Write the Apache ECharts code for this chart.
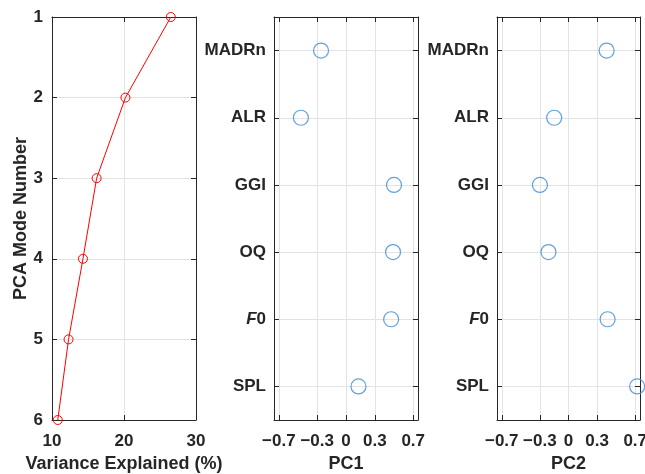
<!DOCTYPE html>
<html lang="en">
<head>
<meta charset="UTF-8">
<title>PCA</title>
<script src="https://cdn.jsdelivr.net/npm/echarts@6/dist/echarts.min.js"></script>
</head>
<body style="margin:0;background:#fff">
<div id="main" style="width:645px;height:474px"></div>
<script>
// data
var modeNumbers = [1, 2, 3, 4, 5, 6];
var varianceExplained = [26.5, 20.2, 16.2, 14.3, 12.3, 10.8];
var features = ['MADRn', 'ALR', 'GGI', 'OQ', 'F0', 'SPL'];
var featurePos = [1, 2, 3, 4, 5, 6];
var pc1 = [-0.26, -0.47, 0.50, 0.49, 0.47, 0.13];
var pc2 = [0.40, -0.15, -0.30, -0.21, 0.41, 0.72];
var pcTicks = [-0.7, -0.3, 0, 0.3, 0.7];

var font = 'Liberation Sans, Arial, sans-serif';
var txt = '#262626';
var boxColor = '#262626';
var gridColor = '#e3e3e3';

function minus(v) { return String(v).replace('-', '\u2212'); }

function frameAxis(type, gridIndex, pos, extra) {
    var a = {
        type: 'value',
        gridIndex: gridIndex,
        position: pos,
        axisLine: { show: true, onZero: false, lineStyle: { color: boxColor, width: 1 } },
        axisTick: { show: true, inside: true, length: 5, lineStyle: { color: boxColor } },
        axisLabel: { show: false },
        splitLine: { show: false }
    };
    for (var k in extra) a[k] = extra[k];
    return a;
}

var labelStyle = { color: txt, fontFamily: font, fontWeight: 'bold', fontSize: 17 };
var nameStyle = { color: txt, fontFamily: font, fontWeight: 'bold', fontSize: 18 };

var xAxes = [], yAxes = [];

// panel 1
xAxes.push(frameAxis('value', 0, 'bottom', {
    min: 10, max: 30, interval: 10,
    name: 'Variance Explained (%)', nameLocation: 'middle', nameGap: 35, nameMoveOverlap: false,
    nameTextStyle: nameStyle,
    axisLabel: Object.assign({ show: true, margin: 13 }, labelStyle),
    splitLine: { show: true, lineStyle: { color: gridColor } }
}));
xAxes.push(frameAxis('value', 0, 'top', { min: 10, max: 30, interval: 10 }));
yAxes.push(frameAxis('value', 0, 'left', {
    min: 1, max: 6, interval: 1, inverse: true,
    name: 'PCA Mode Number', nameLocation: 'middle', nameGap: 22, nameMoveOverlap: false,
    nameTextStyle: nameStyle,
    axisLabel: Object.assign({ show: true, margin: 9 }, labelStyle),
    splitLine: { show: true, lineStyle: { color: gridColor } }
}));
yAxes.push(frameAxis('value', 0, 'right', { min: 1, max: 6, interval: 1, inverse: true }));

// panels 2 and 3
['PC1', 'PC2'].forEach(function (nm, i) {
    var g = i + 1;
    xAxes.push(frameAxis('value', g, 'bottom', {
        min: -0.75, max: 0.75,
        name: nm, nameLocation: 'middle', nameGap: 35, nameMoveOverlap: false,
        nameTextStyle: nameStyle,
        axisTick: { show: true, inside: true, length: 5, lineStyle: { color: boxColor }, customValues: pcTicks },
        axisLabel: Object.assign({ show: true, margin: 13, customValues: pcTicks, formatter: minus }, labelStyle),
        splitLine: { show: true, lineStyle: { color: gridColor } }
    }));
    xAxes.push(frameAxis('value', g, 'top', {
        min: -0.75, max: 0.75,
        axisTick: { show: true, inside: true, length: 5, lineStyle: { color: boxColor }, customValues: pcTicks }
    }));
    yAxes.push(frameAxis('value', g, 'left', {
        min: 0.5, max: 6.5, inverse: true,
        axisTick: { show: true, inside: true, length: 5, lineStyle: { color: boxColor }, customValues: featurePos },
        axisLabel: Object.assign({
            show: true, margin: 8, customValues: featurePos,
            formatter: function (v) {
                var s = features[Math.round(v) - 1];
                return s === 'F0' ? '{i|F}{n|0}' : s;
            },
            rich: {
                i: { fontStyle: 'italic', fontWeight: 'bold', fontFamily: font, fontSize: 17, color: txt },
                n: { fontWeight: 'bold', fontFamily: font, fontSize: 17, color: txt }
            }
        }, labelStyle),
        splitLine: { show: true, lineStyle: { color: gridColor } }
    }));
    yAxes.push(frameAxis('value', g, 'right', {
        min: 0.5, max: 6.5, inverse: true,
        axisTick: { show: true, inside: true, length: 5, lineStyle: { color: boxColor }, customValues: featurePos }
    }));
});

function pairs(xs, ys) {
    return xs.map(function (x, i) { return [x, ys[i]]; });
}

var option = {
    backgroundColor: '#fff',
    animation: false,
    grid: [
        { left: 52, top: 17, width: 144, height: 403, outerBoundsMode: 'none' },
        { left: 274, top: 17, width: 144, height: 403, outerBoundsMode: 'none' },
        { left: 497, top: 17, width: 143, height: 403, outerBoundsMode: 'none' }
    ],
    xAxis: xAxes,
    yAxis: yAxes,
    series: [
        {
            type: 'line', xAxisIndex: 0, yAxisIndex: 0,
            data: pairs(varianceExplained, modeNumbers),
            symbol: 'circle', symbolSize: 9, clip: false,
            lineStyle: { color: '#ff0000', width: 1 },
            itemStyle: { color: 'rgba(0,0,0,0)', borderColor: '#ff0000', borderWidth: 1 }
        },
        {
            type: 'scatter', xAxisIndex: 2, yAxisIndex: 2,
            data: pairs(pc1, featurePos),
            symbol: 'circle', symbolSize: 15, clip: false,
            itemStyle: { color: 'rgba(0,0,0,0)', borderColor: '#3a8ad6', borderWidth: 1.2 }
        },
        {
            type: 'scatter', xAxisIndex: 4, yAxisIndex: 4,
            data: pairs(pc2, featurePos),
            symbol: 'circle', symbolSize: 15, clip: false,
            itemStyle: { color: 'rgba(0,0,0,0)', borderColor: '#3a8ad6', borderWidth: 1.2 }
        }
    ]
};

var chart = echarts.init(document.getElementById('main'));
chart.setOption(option);
</script>
</body>
</html>
